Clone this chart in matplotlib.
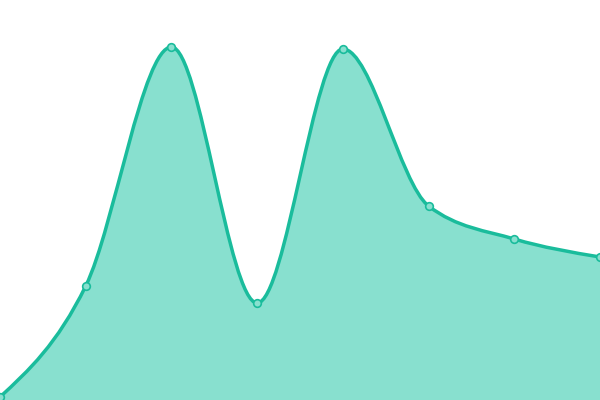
import numpy as np
import matplotlib
matplotlib.use("Agg")
import matplotlib.pyplot as plt
from matplotlib.path import Path
from matplotlib.patches import PathPatch

# values (pixel heights above the bottom edge)
labels = ["a", "b", "c", "d", "e", "f", "g", "h"]
values = [3, 114, 353, 97, 351, 194, 161, 143]

line_color = "#1abc9c"
fill_color = "#88e0cf"


def monotone_slopes(x, y):
    # same slopes as d3.curveMonotoneX
    n = len(x)
    t = np.zeros(n)
    for i in range(1, n - 1):
        h0, h1 = x[i] - x[i - 1], x[i + 1] - x[i]
        s0, s1 = (y[i] - y[i - 1]) / h0, (y[i + 1] - y[i]) / h1
        p = (s0 * h1 + s1 * h0) / (h0 + h1)
        t[i] = (np.sign(s0) + np.sign(s1)) * min(abs(s0), abs(s1), 0.5 * abs(p))
    h = x[1] - x[0]
    t[0] = (3 * (y[1] - y[0]) / h - t[1]) / 2
    h = x[-1] - x[-2]
    t[-1] = (3 * (y[-1] - y[-2]) / h - t[-2]) / 2
    return t


def curve_path(x, y):
    t = monotone_slopes(x, y)
    verts = [(x[0], y[0])]
    codes = [Path.MOVETO]
    for i in range(len(x) - 1):
        dx = (x[i + 1] - x[i]) / 3
        verts += [(x[i] + dx, y[i] + dx * t[i]),
                  (x[i + 1] - dx, y[i + 1] - dx * t[i + 1]),
                  (x[i + 1], y[i + 1])]
        codes += [Path.CURVE4] * 3
    return verts, codes


x = np.arange(len(values), dtype=float)
y = np.array(values, dtype=float)

fig = plt.figure(figsize=(6, 4), dpi=100)
ax = fig.add_axes([0, 0, 1, 1])
ax.set_xlim(0, len(values) - 1)
ax.set_ylim(0, 400)
ax.axis("off")

verts, codes = curve_path(x, y)
area = Path(verts + [(x[-1], 0), (x[0], 0), (x[0], y[0])],
            codes + [Path.LINETO, Path.LINETO, Path.CLOSEPOLY])
ax.add_patch(PathPatch(area, facecolor=fill_color, edgecolor="none", zorder=1))
ax.add_patch(PathPatch(Path(verts, codes), facecolor="none",
                       edgecolor=line_color, lw=2.5, zorder=2))
ax.plot(x, y, "o", ms=5.5, mfc=fill_color, mec=line_color, mew=1.2,
        zorder=3, clip_on=False)

fig.savefig("out.png", dpi=100)
